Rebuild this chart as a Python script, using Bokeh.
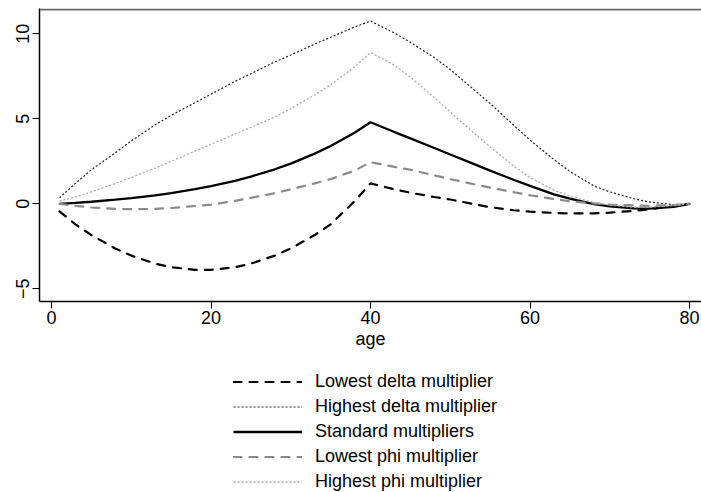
from bokeh.plotting import figure
from bokeh.layouts import column
from bokeh.models import Range1d, FixedTicker, Legend, LegendItem, Span
from bokeh.embed import file_html
from bokeh.resources import INLINE

age = [1, 3, 5, 8, 10, 13, 15, 18, 20, 23, 25, 28, 30, 33, 35, 38, 40,
       43, 45, 48, 50, 53, 55, 58, 60, 63, 65, 68, 70, 73, 75, 78, 80]

lowest_delta = [-0.45, -1.21, -1.84, -2.63, -3.05, -3.52, -3.73, -3.89, -3.89,
                -3.73, -3.52, -3.05, -2.63, -1.84, -1.21, 0.15, 1.2,
                0.85, 0.65, 0.4, 0.25, -0.02, -0.2, -0.38, -0.46, -0.54,
                -0.57, -0.57, -0.52, -0.42, -0.32, -0.13, 0.0]

highest_delta = [0.35, 1.2, 2.0, 3.0, 3.7, 4.65, 5.2, 5.95, 6.45, 7.2, 7.65,
                 8.35, 8.75, 9.4, 9.8, 10.4, 10.75,
                 10.05, 9.5, 8.6, 7.9, 6.7, 5.9, 4.6, 3.75, 2.6, 1.9, 1.05,
                 0.7, 0.3, 0.1, -0.05, 0.0]

standard = [0.0, 0.05, 0.12, 0.24, 0.33, 0.5, 0.63, 0.86, 1.04, 1.35, 1.6,
            2.03, 2.36, 2.95, 3.4, 4.18, 4.8,
            4.22, 3.85, 3.28, 2.9, 2.33, 1.95, 1.4, 1.05, 0.55, 0.3, -0.02,
            -0.15, -0.27, -0.28, -0.18, 0.0]

lowest_phi = [0.0, -0.12, -0.22, -0.3, -0.32, -0.3, -0.25, -0.13, -0.05, 0.17,
              0.35, 0.62, 0.85, 1.2, 1.45, 1.95, 2.45,
              2.17, 2.0, 1.67, 1.45, 1.15, 0.95, 0.68, 0.5, 0.28, 0.15, 0.02,
              -0.05, -0.1, -0.12, -0.08, 0.0]

highest_phi = [0.15, 0.4, 0.7, 1.2, 1.55, 2.1, 2.5, 3.1, 3.5, 4.1, 4.5, 5.1,
               5.6, 6.4, 7.0, 8.05, 8.9,
               8.15, 7.45, 6.25, 5.4, 4.15, 3.35, 2.2, 1.55, 0.8, 0.45, 0.08,
               -0.08, -0.2, -0.2, -0.1, 0.0]

labels = ["Lowest delta multiplier", "Highest delta multiplier",
          "Standard multipliers", "Lowest phi multiplier",
          "Highest phi multiplier"]
x_ticks = [0, 20, 40, 60, 80]
y_ticks = [-5, 0, 5, 10]

FONT = "Liberation Sans"
FS = "18px"

series = [lowest_delta, highest_delta, standard, lowest_phi, highest_phi]
styles = [
    dict(line_color="black", line_width=2.2, line_dash="8 8", line_cap="round"),
    dict(line_color="#222222", line_width=1.2, line_dash="2 2"),
    dict(line_color="black", line_width=2.3),
    dict(line_color="#8a8a8a", line_width=2.2, line_dash="8 8", line_cap="round"),
    dict(line_color="#aaaaaa", line_width=1.3, line_dash="2 2"),
]

# ---- main plot ----
p = figure(width=701, height=355,
           x_range=Range1d(-1.505, 81.5), y_range=Range1d(-5.75, 11.49),
           output_backend="svg", toolbar_location=None,
           min_border_left=39, min_border_right=0, min_border_top=8,
           min_border_bottom=54)
p.outline_line_color = None
p.xgrid.visible = False
p.ygrid.visible = False
p.background_fill_color = "white"

top_line = Span(location=11.43, dimension="width", line_color="#6a6a6a",
                line_width=2)
p.add_layout(top_line)

for ys, st in zip(series, styles):
    p.line(age, ys, **st)

for ax in (p.xaxis[0], p.yaxis[0]):
    ax.axis_line_color = "black"
    ax.axis_line_width = 1.5
    ax.major_tick_line_color = "black"
    ax.major_tick_line_width = 1
    ax.major_tick_out = 7
    ax.major_tick_in = 0
    ax.minor_tick_line_color = None
    ax.major_label_text_font = FONT
    ax.major_label_text_font_size = FS
    ax.major_label_text_color = "black"

p.xaxis[0].ticker = FixedTicker(ticks=x_ticks)
p.yaxis[0].ticker = FixedTicker(ticks=y_ticks)
p.yaxis[0].major_label_orientation = "vertical"
p.yaxis[0].major_label_standoff = 3
p.xaxis[0].major_label_standoff = 2
p.xaxis[0].axis_label = "age"
p.xaxis[0].axis_label_text_font = FONT
p.xaxis[0].axis_label_text_font_size = FS
p.xaxis[0].axis_label_text_font_style = "normal"
p.xaxis[0].axis_label_text_color = "black"
p.xaxis[0].axis_label_standoff = 2

# ---- legend panel (its lines sit outside the visible range) ----
p2 = figure(width=701, height=137, x_range=Range1d(1000, 1001),
            y_range=Range1d(1000, 1001), output_backend="svg",
            toolbar_location=None, x_axis_location=None,
            y_axis_location=None, min_border=0)
p2.outline_line_color = None
p2.xgrid.visible = False
p2.ygrid.visible = False

renderers = [p2.line(age, ys, **st) for ys, st in zip(series, styles)]
items = [LegendItem(label=lab, renderers=[r])
         for lab, r in zip(labels, renderers)]
legend = Legend(items=items, location=(194, -2), orientation="vertical",
                glyph_width=69, glyph_height=25, label_height=25,
                label_standoff=13, spacing=0, padding=0, margin=0,
                border_line_color=None, background_fill_alpha=0,
                label_text_font=FONT, label_text_font_size=FS,
                label_text_color="black")
p2.add_layout(legend)

layout = column(p, p2, spacing=0)
open("out.html", "w").write(file_html(layout, INLINE))
